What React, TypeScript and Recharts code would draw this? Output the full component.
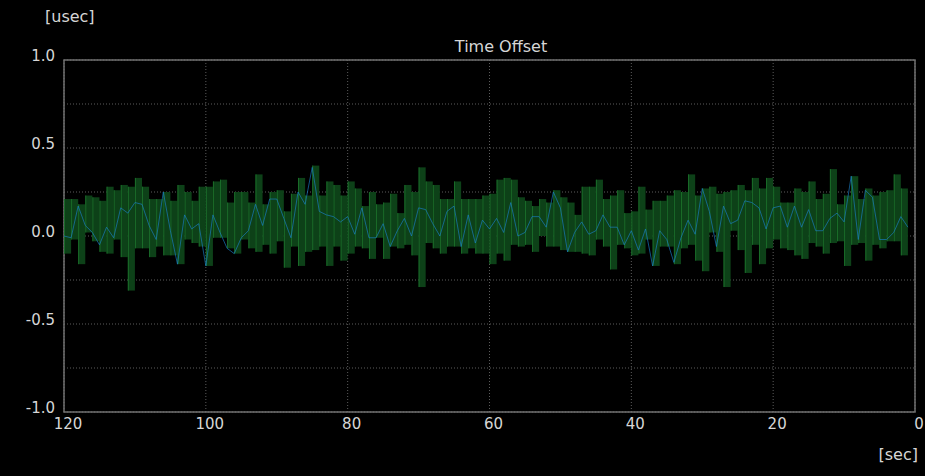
import React from 'react';
import {
  ComposedChart,
  Bar,
  Line,
  XAxis,
  YAxis,
  CartesianGrid,
  ReferenceArea,
} from 'recharts';

// line samples, one per second, from 120 s ago down to 1 s ago
const offset = [
  0.0, -0.01, 0.17, 0.06, 0.02, -0.05, 0.05, -0.01, 0.16, 0.13,
  0.19, 0.18, 0.06, -0.02, 0.25, 0.03, -0.16, 0.12, 0.04, 0.07,
  -0.17, 0.12, 0.02, -0.07, -0.1, -0.01, 0.03, 0.18, 0.06, 0.21,
  0.21, 0.1, -0.01, 0.25, 0.18, 0.39, 0.14, 0.12, 0.11, 0.08,
  0.11, 0.01, 0.16, -0.01, -0.01, 0.07, -0.06, 0.03, 0.1, 0.0,
  0.16, 0.15, 0.07, 0.0, 0.14, 0.17, -0.06, 0.12, -0.04, 0.09,
  0.04, 0.1, 0.02, 0.19, 0.0, 0.02, 0.11, 0.11, 0.05, 0.25,
  0.16, -0.09, 0.02, 0.08, 0.01, 0.03, 0.12, 0.05, 0.05, -0.05,
  0.03, -0.08, 0.04, -0.17, 0.03, -0.02, -0.15, -0.01, 0.09, 0.01,
  0.27, 0.14, -0.06, 0.17, 0.07, 0.09, 0.2, 0.19, 0.16, 0.04,
  0.16, 0.17, 0.05, 0.17, 0.05, 0.15, 0.03, 0.03, 0.1, 0.13,
  0.08, 0.34, -0.02, 0.26, 0.22, -0.02, -0.02, 0.02, 0.11, 0.05,
];

// per-second max / min (bar spans the second after each sample)
const barMax = [
  0.21, 0.21, 0.18, 0.23, 0.22, 0.2, 0.28, 0.26, 0.29, 0.28,
  0.33, 0.28, 0.21, 0.21, 0.25, 0.2, 0.29, 0.25, 0.2, 0.28,
  0.28, 0.31, 0.32, 0.19, 0.25, 0.25, 0.19, 0.35, 0.18, 0.25,
  0.26, 0.14, 0.24, 0.33, 0.23, 0.4, 0.23, 0.31, 0.29, 0.23,
  0.31, 0.27, 0.17, 0.25, 0.18, 0.19, 0.24, 0.13, 0.29, 0.25,
  0.39, 0.31, 0.29, 0.21, 0.21, 0.31, 0.21, 0.21, 0.21, 0.23,
  0.24, 0.32, 0.33, 0.32, 0.22, 0.2, 0.17, 0.21, 0.19, 0.26,
  0.22, 0.19, 0.12, 0.28, 0.28, 0.32, 0.21, 0.23, 0.26, 0.13,
  0.14, 0.28, 0.15, 0.2, 0.2, 0.23, 0.26, 0.25, 0.35, 0.23,
  0.27, 0.28, 0.24, 0.25, 0.26, 0.29, 0.26, 0.33, 0.27, 0.33,
  0.28, 0.19, 0.19, 0.27, 0.25, 0.31, 0.21, 0.24, 0.38, 0.18,
  0.23, 0.34, 0.21, 0.27, 0.23, 0.25, 0.26, 0.35, 0.27,
];

const barMin = [
  -0.1, -0.02, -0.16, 0.02, -0.03, -0.09, -0.1, -0.02, -0.12, -0.31,
  -0.07, -0.07, -0.12, -0.06, -0.11, -0.11, -0.16, -0.02, -0.04, -0.06,
  -0.17, -0.01, -0.01, -0.07, -0.1, -0.02, -0.07, -0.09, -0.05, -0.1,
  -0.03, -0.18, -0.06, -0.17, -0.09, -0.08, -0.06, -0.17, -0.06, -0.14,
  -0.1, -0.06, -0.07, -0.13, -0.01, -0.13, -0.06, -0.07, -0.05, -0.11,
  -0.29, -0.04, -0.07, -0.1, -0.06, -0.06, -0.1, -0.07, -0.1, -0.1,
  -0.16, -0.1, -0.14, -0.05, -0.06, -0.05, -0.09, 0.0, -0.06, -0.06,
  -0.08, -0.09, -0.09, -0.1, -0.11, -0.02, -0.06, -0.19, -0.05, -0.07,
  -0.11, -0.1, -0.02, -0.17, -0.06, -0.06, -0.16, -0.07, -0.05, -0.14,
  -0.2, 0.02, -0.09, -0.29, 0.03, -0.08, -0.21, -0.05, -0.16, -0.07,
  -0.02, -0.07, -0.08, -0.11, -0.13, -0.04, -0.06, -0.1, -0.04, -0.03,
  -0.17, -0.05, -0.04, -0.14, -0.05, -0.07, -0.03, -0.03, -0.11,
];

const xTicks = [0, 20, 40, 60, 80, 100, 120];
const yTicks = [-1, -0.75, -0.5, -0.25, 0, 0.25, 0.5, 0.75, 1];

const data = offset.map((v, i) => ({
  t: 120 - i,
  tb: 119.5 - i,
  offset: v,
  range: i < barMax.length ? [barMin[i], barMax[i]] : null,
}));

const FONT = '"DejaVu Sans", sans-serif';
const TEXT = '#d6d6d6';

const GreenBar = (props: any) => {
  const { x, y, width, height, payload } = props;
  if (!payload || !payload.range || height == null || isNaN(height)) return null;
  const top = height < 0 ? y + height : y;
  const h = Math.abs(height);
  return (
    <g>
      <rect x={x} y={top} width={width} height={h} fill="#0d4118" />
      <line x1={x + 0.5} x2={x + 0.5} y1={top} y2={top + h} stroke="#1a6c29" strokeWidth={1} />
    </g>
  );
};

const YTick = (props: any) => {
  const { y, payload } = props;
  const v = payload.value;
  if (Math.abs(v * 2 - Math.round(v * 2)) > 1e-6) return null;
  return (
    <text x={55} y={y + 1} textAnchor="end" fill={TEXT} fontSize={15} fontFamily={FONT}>
      {v.toFixed(1)}
    </text>
  );
};

const XTick = (props: any) => {
  const { x, payload } = props;
  return (
    <text x={x + 4} y={429} textAnchor="middle" fill={TEXT} fontSize={15} fontFamily={FONT}>
      {payload.value}
    </text>
  );
};

export default function App() {
  return (
    <div style={{ position: 'absolute', left: 0, top: 0, width: 925, height: 476, background: '#000' }}>
      <ComposedChart
        width={925}
        height={476}
        data={data}
        margin={{ top: 60, right: 10, bottom: 24, left: 4 }}
      >
        <XAxis
          dataKey="t"
          type="number"
          domain={[0, 120]}
          ticks={xTicks}
          reversed
          allowDataOverflow
          axisLine={false}
          tickLine={false}
          height={40}
          tick={<XTick />}
          interval={0}
        />
        <XAxis xAxisId="b" dataKey="tb" type="number" domain={[0, 120]} reversed allowDataOverflow hide />
        <YAxis
          type="number"
          domain={[-1, 1]}
          ticks={yTicks}
          allowDataOverflow
          axisLine={false}
          tickLine={false}
          width={60}
          tick={<YTick />}
          interval={0}
        />
        <Bar
          xAxisId="b"
          dataKey="range"
          barSize={7.09}
          shape={<GreenBar />}
          isAnimationActive={false}
        />
        <CartesianGrid stroke="#5c5c5c" strokeDasharray="1 2" />
        <Line
          dataKey="offset"
          type="linear"
          stroke="#1a80c8"
          strokeOpacity={0.65}
          strokeWidth={1}
          dot={false}
          isAnimationActive={false}
        />
        <ReferenceArea x1={0} x2={120} y1={-1} y2={1} fill="none" stroke="#707070" strokeWidth={1.5} />
      </ComposedChart>
      <svg
        width={925}
        height={476}
        style={{ position: 'absolute', left: 0, top: 0, pointerEvents: 'none' }}
      >
        <text x={45} y={22} fill={TEXT} fontSize={16} fontFamily={FONT}>[usec]</text>
        <text x={501} y={52} textAnchor="middle" fill={TEXT} fontSize={16} fontFamily={FONT}>Time Offset</text>
        <text x={918} y={460} textAnchor="end" fill={TEXT} fontSize={16} fontFamily={FONT}>[sec]</text>
      </svg>
    </div>
  );
}
